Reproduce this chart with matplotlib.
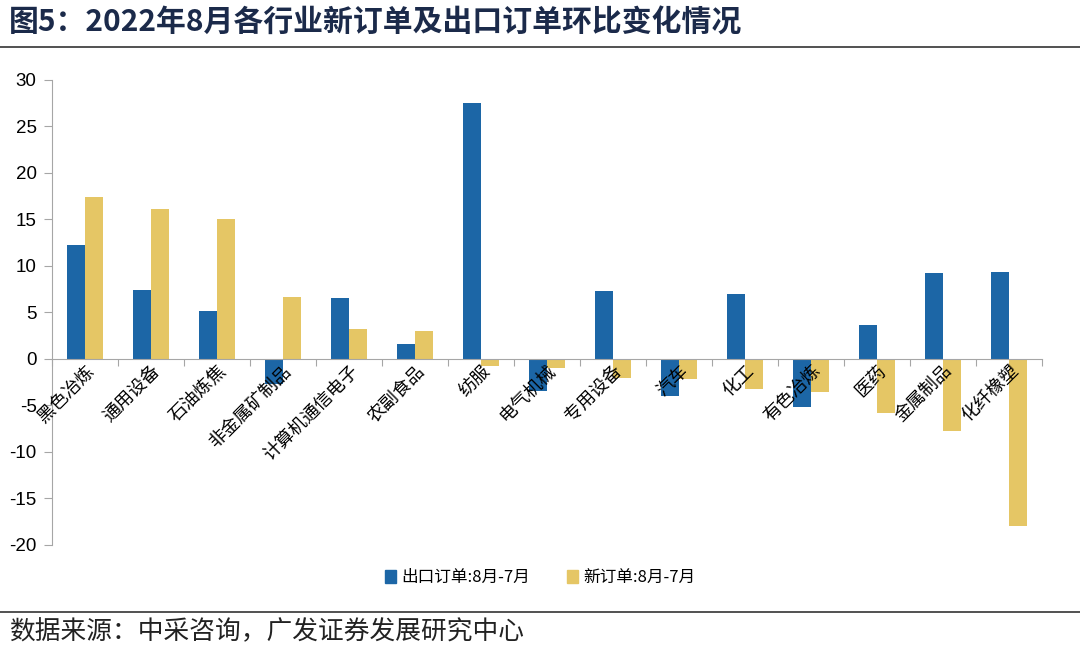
import numpy as np
import matplotlib
matplotlib.use('Agg')
import matplotlib.pyplot as plt
from matplotlib.patches import Patch
from matplotlib.lines import Line2D

plt.rcParams['font.family'] = ['Noto Sans CJK SC', 'DejaVu Sans']
plt.rcParams['axes.unicode_minus'] = False

categories = ['黑色冶炼', '通用设备', '石油炼焦', '非金属矿制品', '计算机通信电子', '农副食品', '纺服',
              '电气机械', '专用设备', '汽车', '化工', '有色冶炼', '医药', '金属制品', '化纤橡塑']
export_orders = [12.3, 7.4, 5.2, -2.7, 6.5, 1.6, 27.5, -3.5, 7.3, -4.0, 7.0, -5.2, 3.7, 9.2, 9.3]
new_orders = [17.4, 16.1, 15.0, 6.7, 3.2, 3.0, -0.8, -1.0, -2.0, -2.2, -3.2, -3.6, -5.8, -7.8, -18.0]
series_names = ['出口订单:8月-7月', '新订单:8月-7月']

blue = '#1C66A6'
yellow = '#E5C665'
grey = '#A6A6A6'

fig = plt.figure(figsize=(10.8, 6.55), dpi=100)
ax = fig.add_axes((0.048, 0.168, 0.917, 0.71))

x = np.arange(len(categories))
w = 0.27
ax.bar(x - w / 2, export_orders, width=w, color=blue, zorder=1)
ax.bar(x + w / 2, new_orders, width=w, color=yellow, zorder=1)

ax.set_xlim(-0.5, len(categories) - 0.5)
ax.set_ylim(-20, 30)
ax.set_yticks(range(-20, 31, 5))
ax.tick_params(axis='y', labelsize=13.5, color=grey, length=6, pad=5, labelcolor='black')
for lbl in ax.get_yticklabels():
    lbl.set_family(['Liberation Sans', 'DejaVu Sans'])

ax.spines['top'].set_visible(False)
ax.spines['right'].set_visible(False)
ax.spines['left'].set_color(grey)
ax.spines['bottom'].set_position(('data', 0))
ax.spines['bottom'].set_color(grey)

# 类别分隔刻度
ax.set_xticks(np.arange(-0.5, len(categories), 1.0))
ax.set_xticklabels([])
ax.tick_params(axis='x', color=grey, length=5, direction='out')
ax.set_xticks(x, minor=True)
ax.set_xticklabels(categories, minor=True, rotation=45, ha='right', va='top',
                   rotation_mode='anchor', fontsize=13)
ax.tick_params(axis='x', which='minor', length=0, pad=2)
ax.xaxis.set_zorder(3)

handles = [Patch(color=blue), Patch(color=yellow)]
fig.legend(handles, series_names, loc='center', bbox_to_anchor=(0.5, 0.118), ncol=2,
           frameon=False, fontsize=12, handlelength=0.7, handleheight=0.9, columnspacing=2.2,
           handletextpad=0.3)

fig.text(0.008, 0.965, '图5：2022年8月各行业新订单及出口订单环比变化情况', fontsize=21.5,
         fontweight='bold', color='#1B2A4A', va='center', ha='left')
fig.add_artist(Line2D([0, 1], [0.929, 0.929], transform=fig.transFigure, color='#333333', lw=1.2))
fig.add_artist(Line2D([0, 1], [0.066, 0.066], transform=fig.transFigure, color='#333333', lw=1.2))
fig.text(0.008, 0.035, '数据来源：中采咨询，广发证券发展研究中心', fontsize=18.5, color='#222222',
         va='center', ha='left')

fig.savefig('out.png', dpi=100)
